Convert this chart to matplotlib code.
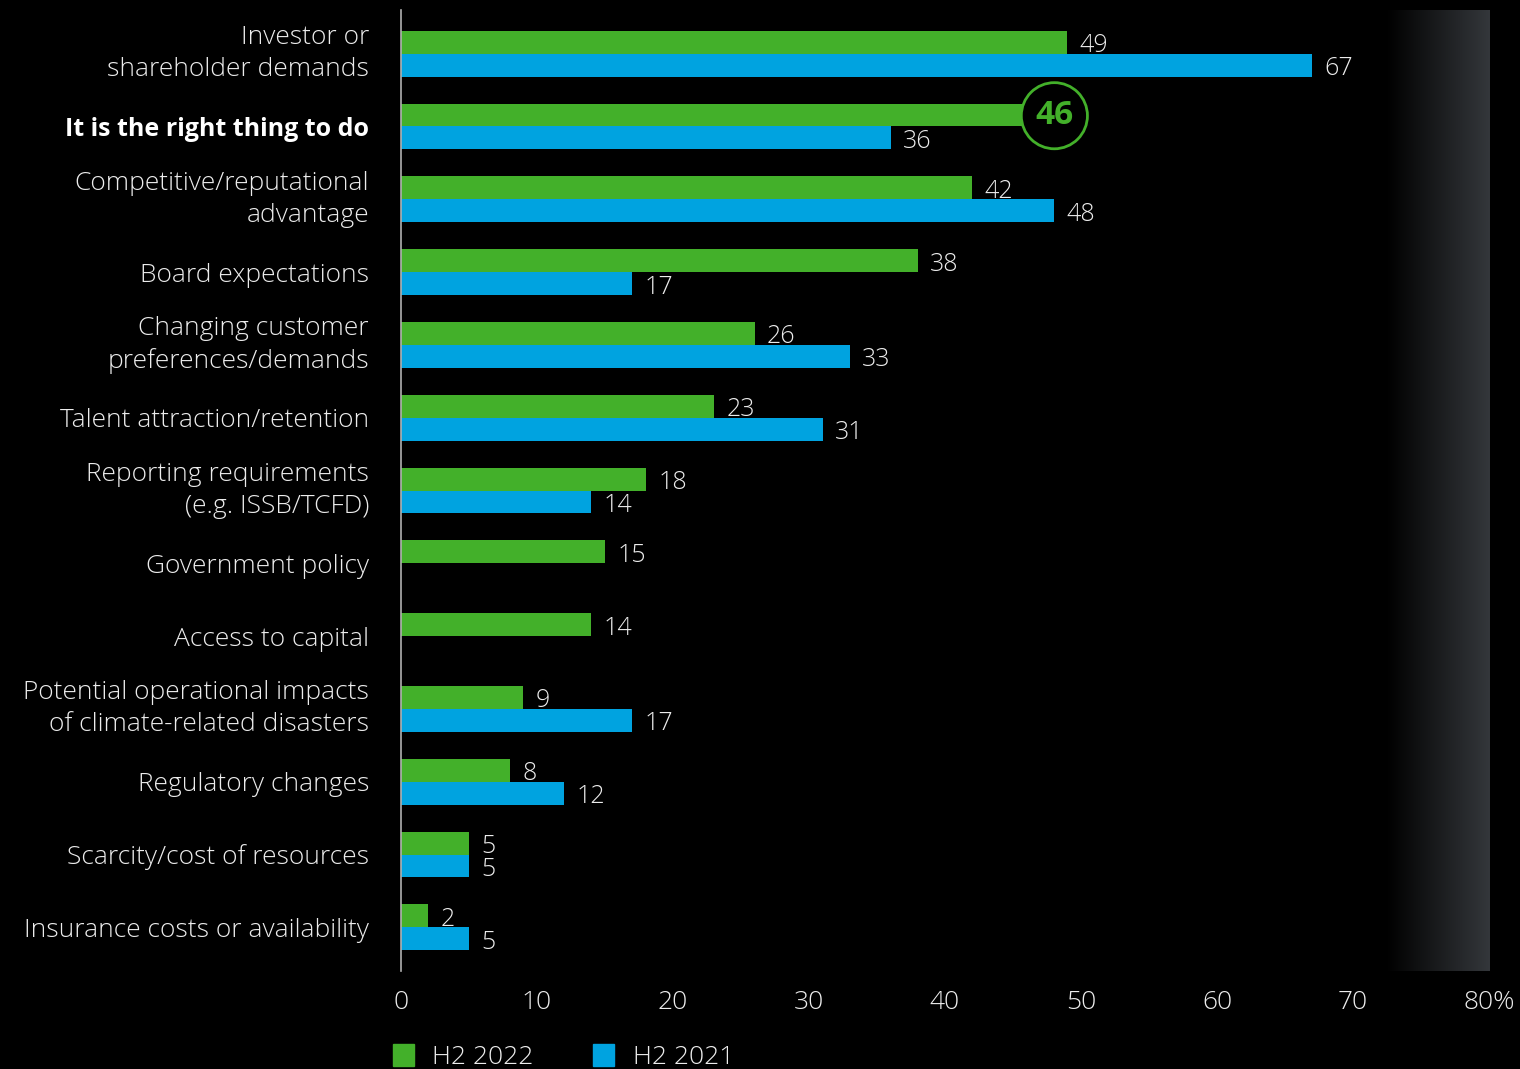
import numpy as np
import matplotlib
matplotlib.use("Agg")
from matplotlib import pyplot as plt
from matplotlib.colors import LinearSegmentedColormap

plt.rcParams['font.family'] = ['Open Sans', 'DejaVu Sans']

# Survey data (percent of respondents)
categories = [
    "Investor or\nshareholder demands",
    "It is the right thing to do",
    "Competitive/reputational\nadvantage",
    "Board expectations",
    "Changing customer\npreferences/demands",
    "Talent attraction/retention",
    "Reporting requirements\n(e.g. ISSB/TCFD)",
    "Government policy",
    "Access to capital",
    "Potential operational impacts\nof climate-related disasters",
    "Regulatory changes",
    "Scarcity/cost of resources",
    "Insurance costs or availability",
]
h2_2022 = [49, 46, 42, 38, 26, 23, 18, 15, 14, 9, 8, 5, 2]
h2_2021 = [67, 36, 48, 17, 33, 31, 14, None, None, 17, 12, 5, 5]
highlight = 1
xticks = [0, 10, 20, 30, 40, 50, 60, 70, 80]
xticklabels = ["0", "10", "20", "30", "40", "50", "60", "70", "80%"]

GREEN = "#43b02a"
BLUE = "#00a3e0"
TEXT = "#ececec"

W, H = 1520, 1069
fig = plt.figure(figsize=(W / 100, H / 100), dpi=100, facecolor="black")
ax = fig.add_axes([401 / W, (H - 971) / H, (1489 - 401) / W, (971 - 10) / H])
ax.set_facecolor("black")

n = len(categories)
y = np.arange(n)
bh = 0.315

# Shaded band toward the right edge
grad = np.linspace(0, 1, 256).reshape(1, -1)
cmap = LinearSegmentedColormap.from_list("band", ["#000000", "#34373b"])
ax.imshow(grad, cmap=cmap, aspect="auto", extent=[72.4, 80, n - 0.4, -0.6], zorder=0)

label_kw = dict(textcoords="offset points", ha="left", va="center",
                color=TEXT, fontsize=18, fontweight="light")

for i in range(n):
    g = h2_2022[i]
    ax.barh(y[i] - bh / 2, g, height=bh, color=GREEN, zorder=2)
    if i == highlight:
        ax.annotate(str(g), (g, y[i] - bh / 2), xytext=(20, -0.5), textcoords="offset points",
                    ha="center", va="center", color=GREEN, fontsize=24, fontweight="bold", zorder=5,
                    bbox=dict(boxstyle="circle,pad=0.42", fc="black", ec=GREEN, lw=2))
    else:
        ax.annotate(str(g), (g, y[i] - bh / 2), xytext=(9, -2.5), **label_kw)
    b = h2_2021[i]
    if b is not None:
        ax.barh(y[i] + bh / 2, b, height=bh, color=BLUE, zorder=2)
        ax.annotate(str(b), (b, y[i] + bh / 2), xytext=(9, -2.5), **label_kw)

ax.set_xlim(0, 80)
ax.set_ylim(n - 0.4, -0.6)
ax.set_xticks(xticks)
ax.set_xticklabels(xticklabels, color=TEXT, fontsize=19, fontweight="light")
ax.set_yticks(y)
ax.set_yticklabels(categories, color=TEXT, fontsize=19, fontweight="light", linespacing=1.36)
for lbl in ax.get_yticklabels():
    if "\n" in lbl.get_text():
        lbl.set_verticalalignment("center")
ax.get_yticklabels()[highlight].set_fontweight("bold")
ax.get_yticklabels()[highlight].set_fontsize(18)
ax.get_yticklabels()[highlight].set_color("white")
ax.tick_params(axis="x", length=0, pad=14)
ax.tick_params(axis="y", length=0, pad=23)
for s in ["top", "right", "bottom"]:
    ax.spines[s].set_visible(False)
ax.spines["left"].set_color("#b0b0b0")
ax.spines["left"].set_linewidth(1.2)

# Legend
fig.patches.append(plt.Rectangle((393 / W, (H - 1066) / H), 21 / W, 22 / H,
                                 transform=fig.transFigure, color=GREEN))
fig.text(432 / W, (H - 1057) / H, "H2 2022", color=TEXT, fontsize=19, fontweight="light", va="center")
fig.patches.append(plt.Rectangle((593 / W, (H - 1066) / H), 21 / W, 22 / H,
                                 transform=fig.transFigure, color=BLUE))
fig.text(633 / W, (H - 1057) / H, "H2 2021", color=TEXT, fontsize=19, fontweight="light", va="center")

fig.savefig("out.png", dpi=100, facecolor="black")
